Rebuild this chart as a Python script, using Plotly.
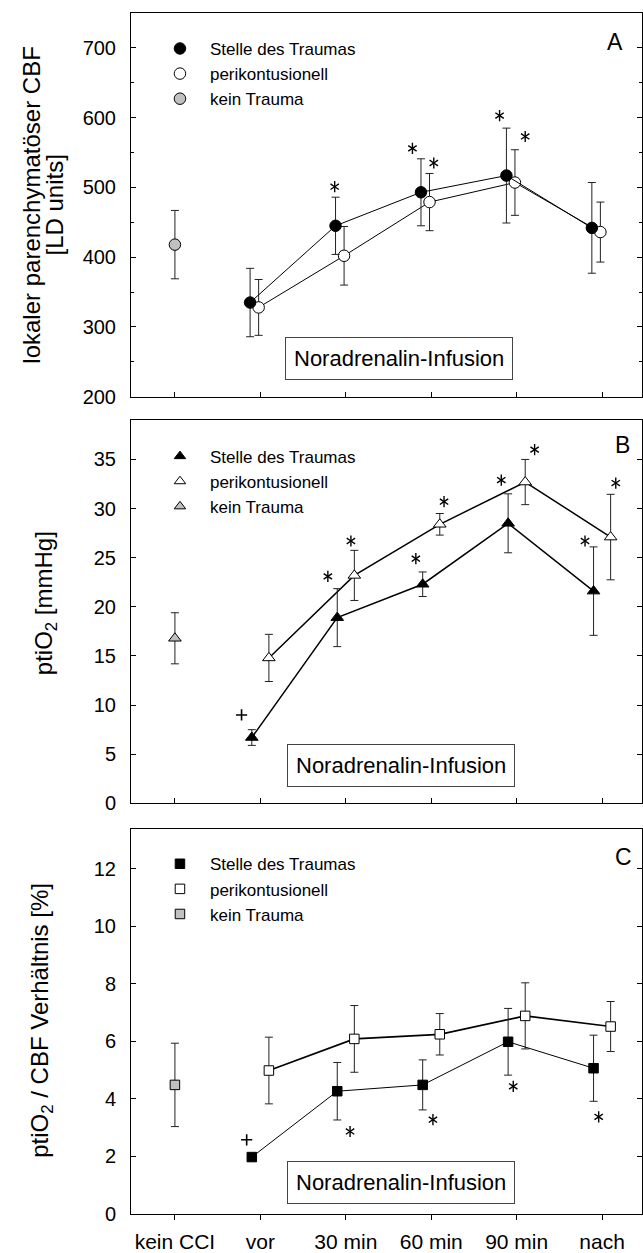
import plotly.graph_objects as go

FONT = "Liberation Sans, Arial, sans-serif"

# ---------------- data ----------------
categories = ["kein CCI", "vor", "30 min", "60 min", "90 min", "nach"]
time_idx = [1, 2, 3, 4, 5]          # index of the time points within categories
none_idx = [0]                      # "kein CCI"

# Panel A: lokaler parenchymatoeser CBF [LD units]
cbf_trauma = [335, 445, 493, 517, 442]
cbf_trauma_err = [49, 41, 48, 68, 65]
cbf_peri = [328, 402, 479, 507, 436]
cbf_peri_err = [40, 42, 41, 47, 43]
cbf_none = [418]
cbf_none_err = [49]
cbf_star_x = [1.87, 2.78, 3.03, 3.80, 4.10]
cbf_star_y = [501, 556, 535, 603, 573]

# Panel B: ptiO2 [mmHg]
pti_trauma = [6.7, 18.9, 22.3, 28.5, 21.6]
pti_trauma_err = [0.8, 2.95, 1.25, 3.0, 4.5]
pti_peri = [14.8, 23.2, 28.4, 32.7, 27.1]
pti_peri_err = [2.4, 2.55, 1.1, 2.3, 4.35]
pti_none = [16.8]
pti_none_err = [2.6]
pti_star_x = [1.79, 2.06, 2.82, 3.15, 3.82, 4.21, 4.80, 5.16]
pti_star_y = [23.1, 26.7, 24.9, 30.7, 32.9, 36.0, 26.7, 32.6]
pti_plus_x = [0.78]
pti_plus_y = [9.0]

# Panel C: ptiO2 / CBF Verhaeltnis [%]
ratio_trauma = [1.98, 4.27, 4.49, 5.99, 5.07]
ratio_trauma_err = [0.05, 1.0, 0.87, 1.16, 1.15]
ratio_peri = [4.99, 6.09, 6.25, 6.89, 6.52]
ratio_peri_err = [1.16, 1.16, 0.72, 1.15, 0.87]
ratio_none = [4.49]
ratio_none_err = [1.45]
ratio_star_x = [2.05, 3.02, 3.96, 4.96]
ratio_star_y = [2.87, 3.28, 4.44, 3.38]
ratio_plus_x = [0.84]
ratio_plus_y = [2.58]

legend_names = ["Stelle des Traumas", "perikontusionell", "kein Trauma"]
box_text = "Noradrenalin-Infusion"

# ---------------- styling ----------------
GRAY = "#c0c0c0"
W, H = 643, 1253
L, T, B = 131, 13, 35
plot_h = H - T - B


def ydom(top_px, bot_px):
    return [(H - B - bot_px) / plot_h, (H - B - top_px) / plot_h]


def pxx(px):
    return (px - L) / (W - L)


def pyy(py):
    return (H - B - py) / plot_h


XR = [-0.514, 5.467]

fig = go.Figure()

panels = [
    dict(ax="", sym="circle", off=(-0.12, -0.02), lw=(1, 1),
         t=cbf_trauma, te=cbf_trauma_err, p=cbf_peri, pe=cbf_peri_err,
         n=cbf_none, ne=cbf_none_err, sx=cbf_star_x, sy=cbf_star_y,
         px_=[], py_=[], size=11.5, legend="legend"),
    dict(ax="2", sym="triangle-up", off=(-0.1, 0.1), lw=(1.5, 1.5),
         t=pti_trauma, te=pti_trauma_err, p=pti_peri, pe=pti_peri_err,
         n=pti_none, ne=pti_none_err, sx=pti_star_x, sy=pti_star_y,
         px_=pti_plus_x, py_=pti_plus_y, size=11, legend="legend2"),
    dict(ax="3", sym="square", off=(-0.1, 0.1), lw=(1, 1.7),
         t=ratio_trauma, te=ratio_trauma_err, p=ratio_peri, pe=ratio_peri_err,
         n=ratio_none, ne=ratio_none_err, sx=ratio_star_x, sy=ratio_star_y,
         px_=ratio_plus_x, py_=ratio_plus_y, size=9.5, legend="legend3"),
]

for pn in panels:
    xa, ya = "x" + pn["ax"], "y" + pn["ax"]
    eb = lambda e: dict(type="data", array=e, visible=True, color="#222",
                        thickness=1, width=4)
    mk_line = dict(color="black", width=1)
    # data traces
    fig.add_trace(go.Scatter(
        x=[i + pn["off"][1] for i in time_idx], y=pn["p"], error_y=eb(pn["pe"]),
        mode="lines+markers", line=dict(color="black", width=pn["lw"][1]),
        marker=dict(symbol=pn["sym"], size=pn["size"], color="white", line=mk_line),
        xaxis=xa, yaxis=ya, showlegend=False))
    fig.add_trace(go.Scatter(
        x=[i + pn["off"][0] for i in time_idx], y=pn["t"], error_y=eb(pn["te"]),
        mode="lines+markers", line=dict(color="black", width=pn["lw"][0]),
        marker=dict(symbol=pn["sym"], size=pn["size"], color="black", line=mk_line),
        xaxis=xa, yaxis=ya, showlegend=False))
    fig.add_trace(go.Scatter(
        x=none_idx, y=pn["n"], error_y=eb(pn["ne"]), mode="markers",
        marker=dict(symbol=pn["sym"], size=pn["size"], color=GRAY, line=mk_line),
        xaxis=xa, yaxis=ya, showlegend=False))
    # significance marks (six-armed asterisks)
    for s in ("y-up-open", "y-down-open"):
        fig.add_trace(go.Scatter(
            x=pn["sx"], y=pn["sy"], mode="markers",
            marker=dict(symbol=s, size=7, color="black",
                        line=dict(color="black", width=1.4)),
            xaxis=xa, yaxis=ya, showlegend=False, hoverinfo="skip"))
    if pn["px_"]:
        fig.add_trace(go.Scatter(
            x=pn["px_"], y=pn["py_"], mode="markers",
            marker=dict(symbol="cross-thin-open", size=8, color="black",
                        line=dict(color="black", width=1.6)),
            xaxis=xa, yaxis=ya, showlegend=False, hoverinfo="skip"))
    # legend entries
    for name, col in zip(legend_names, ["black", "white", GRAY]):
        fig.add_trace(go.Scatter(
            x=[None], y=[None], mode="markers", name=name,
            marker=dict(symbol=pn["sym"], size=pn["size"] if pn["sym"] != "triangle-up" else 10,
                        color=col, line=mk_line),
            xaxis=xa, yaxis=ya, legend=pn["legend"]))

axis_common = dict(showline=True, linecolor="black", linewidth=1,
                   showgrid=False, zeroline=False, tickcolor="black",
                   tickwidth=1, tickfont=dict(family=FONT, size=20, color="black"))

panel_px = [(13, 398), (421, 806), (832, 1218)]
yranges = [[200, 750], [0, 39.05], [0, 13.38]]
ydticks = [100, 5, 2]
y0s = [200, 0, 0]

layout = dict(width=W, height=H, margin=dict(l=L, r=0, t=T, b=B),
              paper_bgcolor="white", plot_bgcolor="white",
              font=dict(family=FONT, color="black"))

for k, ((tp, bp), yr, dt, t0) in enumerate(zip(panel_px, yranges, ydticks, y0s)):
    sfx = "" if k == 0 else str(k + 1)
    xa = dict(axis_common, domain=[0, 1], range=XR, tickmode="array",
              tickvals=list(range(len(categories))), anchor="y" + sfx,
              mirror=True, ticklen=5)
    if k < 2:
        xa.update(ticks="inside", showticklabels=False)
    else:
        xa.update(ticks="outside", ticktext=categories,
                  tickfont=dict(family=FONT, size=21, color="black"),
                  ticklabelstandoff=4)
    ya = dict(axis_common, domain=ydom(tp, bp), range=yr, tick0=t0, dtick=dt,
              ticks="inside", ticklen=5, mirror="ticks", anchor="x" + sfx,
              ticklabelstandoff=10)
    if k == 0:
        ya["minor"] = dict(dtick=50, tick0=200, ticks="inside", ticklen=3,
                           tickcolor="black", tickwidth=1)
    layout["xaxis" + sfx] = xa
    layout["yaxis" + sfx] = ya

leg_common = dict(font=dict(family=FONT, size=17, color="black"),
                  bgcolor="rgba(0,0,0,0)", itemwidth=50, xanchor="left",
                  yanchor="top", traceorder="normal", itemclick=False,
                  tracegroupgap=0)
legend_tops = [31, 440, 849]
for k, top in enumerate(legend_tops):
    key = "legend" if k == 0 else "legend" + str(k + 1)
    layout[key] = dict(leg_common, x=pxx(150), y=pyy(top))

fig.update_layout(**layout)

# Noradrenalin boxes
box_pos = [(2.617, 255, ""), (2.646, 3.85, "2"), (2.646, 1.10, "3")]
for bx, by, sfx in box_pos:
    fig.add_annotation(x=bx, y=by, xref="x" + sfx, yref="y" + sfx, text=box_text,
                       showarrow=False, font=dict(family=FONT, size=22, color="black"),
                       bordercolor="#444", borderwidth=1, borderpad=8, bgcolor="white")

# panel letters
for letter, lx, ly in [("A", 616, 42), ("B", 623, 446), ("C", 624, 860)]:
    fig.add_annotation(x=pxx(lx), y=pyy(ly), xref="paper", yref="paper", text=letter,
                       showarrow=False, font=dict(family=FONT, size=23, color="black"),
                       xanchor="center", yanchor="middle")

# y axis titles
ytitles = [("lokaler parenchymatöser CBF", 31.6, 205.5),
           ("[LD units]", 54, 206),
           ("ptiO<sub>2</sub> [mmHg]", 45, 605),
           ("ptiO<sub>2</sub> / CBF Verhältnis [%]", 41, 1024)]
for txt, tx, ty in ytitles:
    fig.add_annotation(x=pxx(tx), y=pyy(ty), xref="paper", yref="paper", text=txt,
                       showarrow=False, textangle=-90,
                       font=dict(family=FONT, size=24, color="black"),
                       xanchor="center", yanchor="middle")

fig.write_html("out.html")
